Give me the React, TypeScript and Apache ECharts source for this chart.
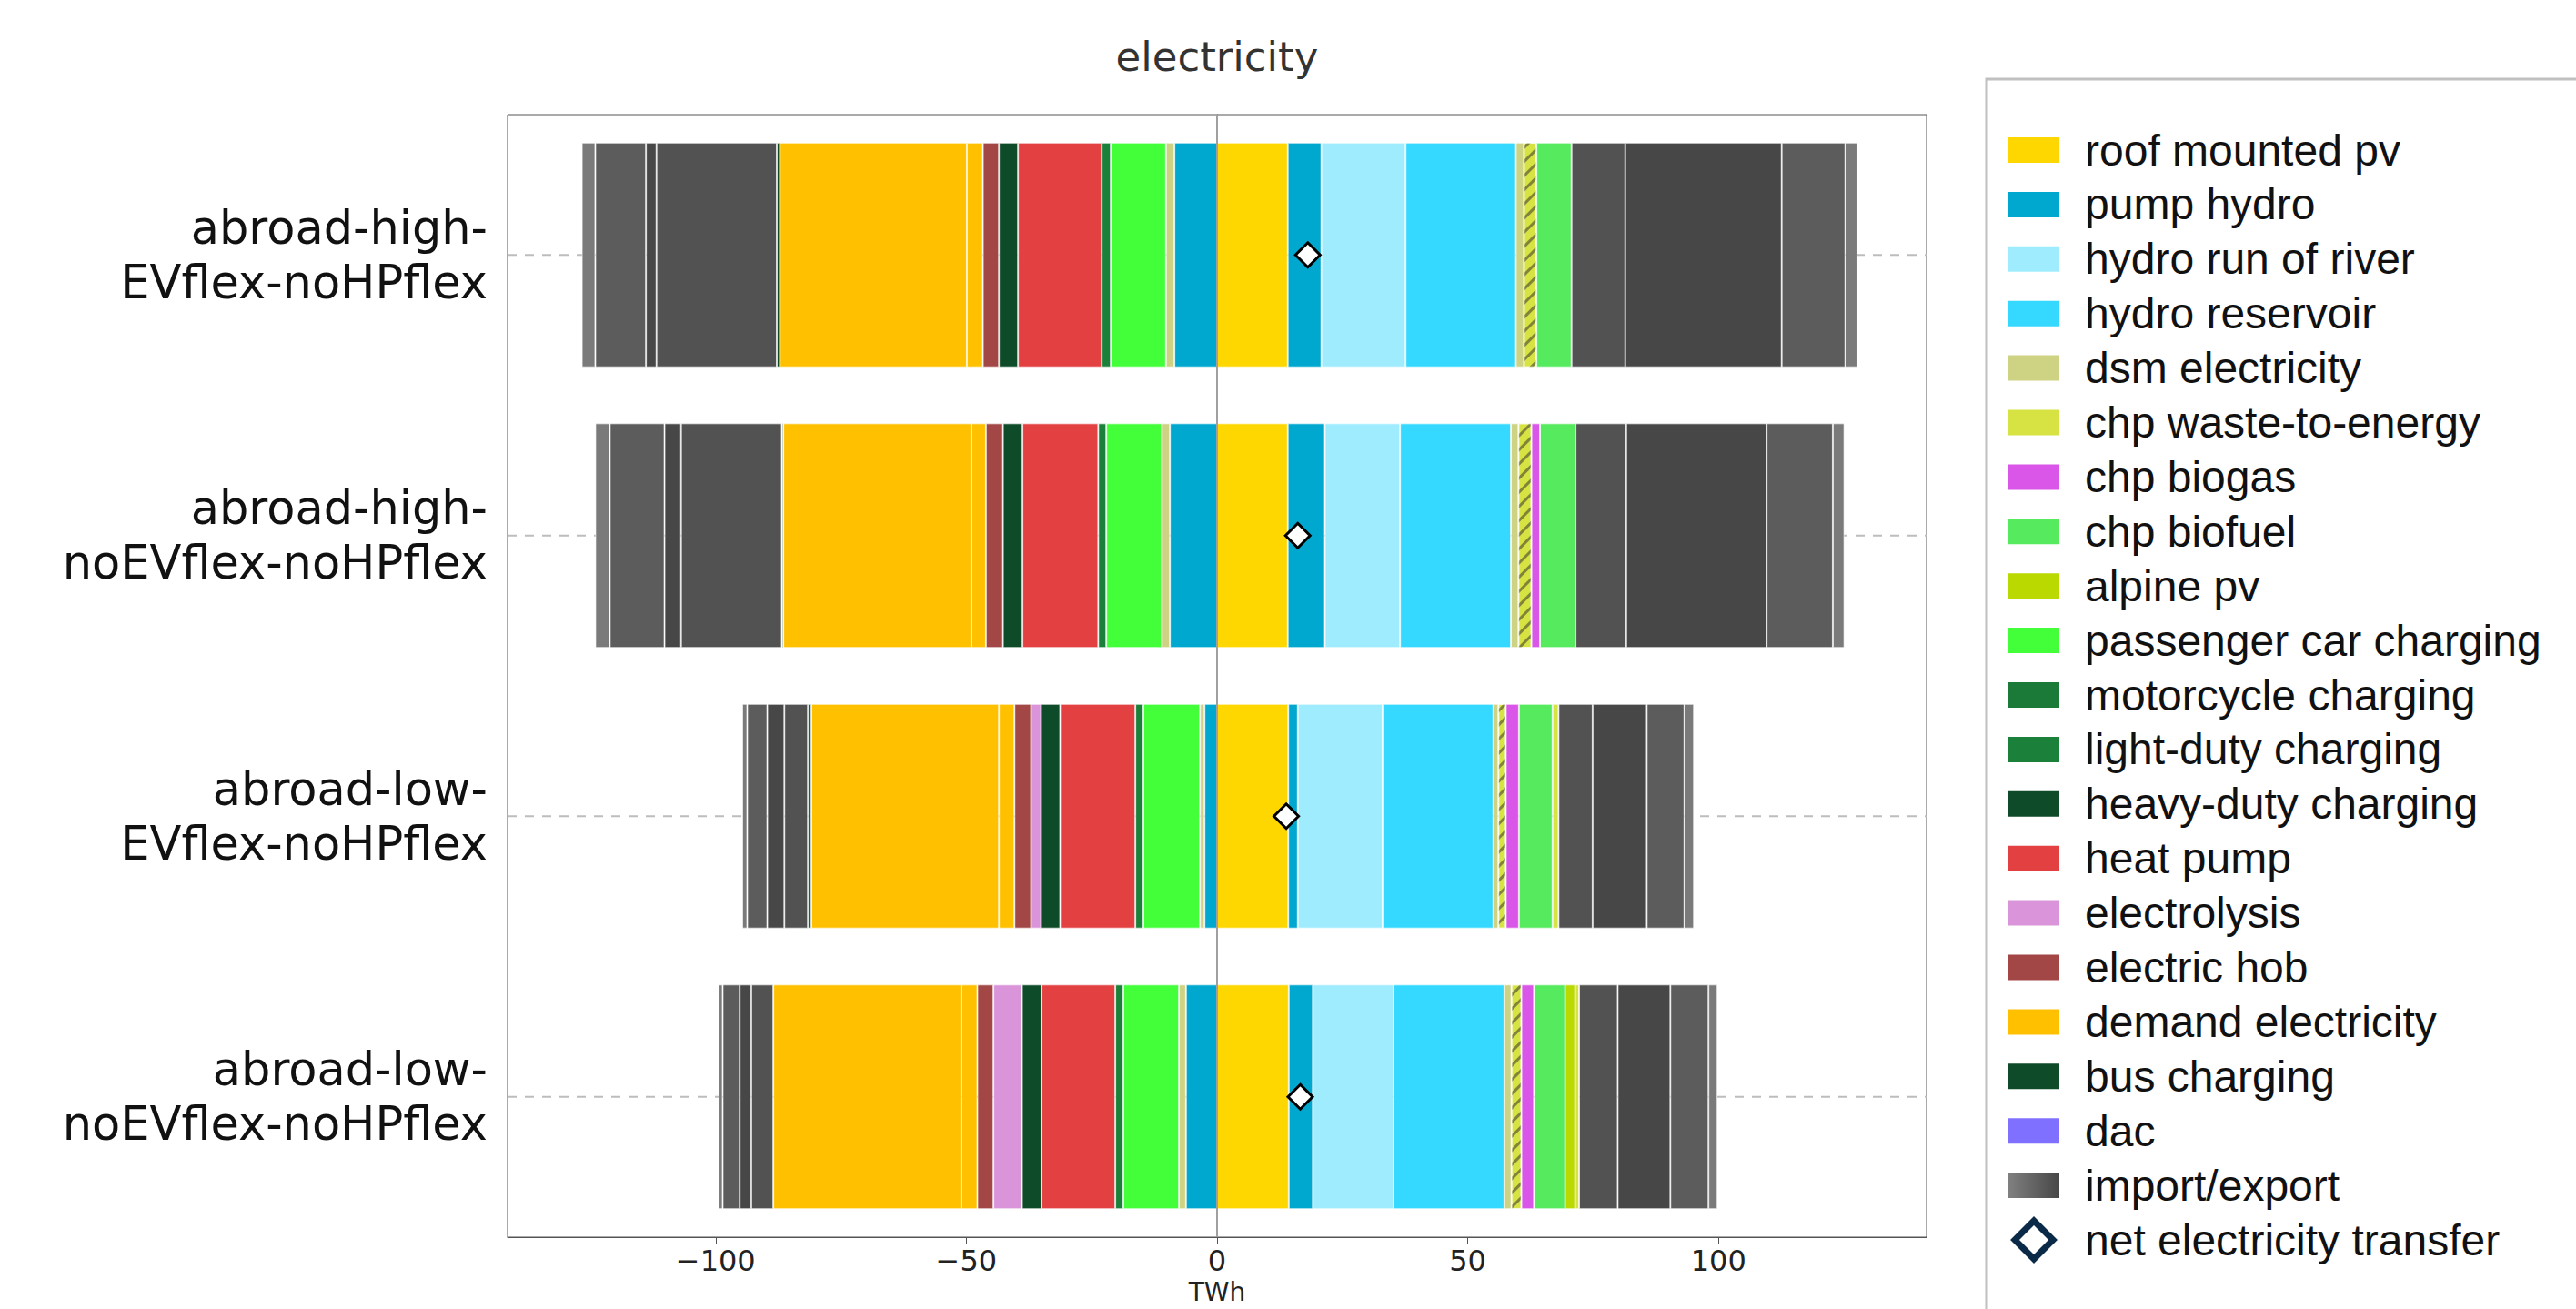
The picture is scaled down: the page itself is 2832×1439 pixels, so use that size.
import React, { useEffect, useRef } from 'react';
import * as echarts from 'echarts';

// ---------- data (TWh) ----------
const categories = [
  'abroad-high-EVflex-noHPflex',
  'abroad-high-noEVflex-noHPflex',
  'abroad-low-EVflex-noHPflex',
  'abroad-low-noEVflex-noHPflex',
];

const roofPv = [14.1, 14.1, 14.2, 14.3];
const pumpHydroGen = [6.7, 7.4, 1.9, 4.8];
const pumpHydroUse = [-8.5, -9.4, -2.5, -6.2];
const hydroRunOfRiver = [16.8, 15.0, 16.9, 16.1];
const hydroReservoir = [22.0, 22.1, 22.1, 22.1];
const dsmUp = [1.6, 1.5, 1.0, 1.4];
const dsmDown = [-1.7, -1.6, -0.9, -1.4];
const chpWasteHatched = [2.5, 2.6, 1.5, 2.0];
const chpBiogas = [0, 1.7, 2.6, 2.5];
const chpBiofuel = [7.0, 7.1, 6.7, 6.2];
const alpinePv = [0, 0, 0, 2.0];
const chpWastePlain = [0, 0, 1.2, 0.8];
const passengerCar = [-11.0, -11.1, -11.3, -11.1];
const motorcycle = [0, 0, 0, 0];
const lightDuty = [-1.8, -1.6, -1.6, -1.6];
const heatPump = [-16.7, -15.1, -15.0, -14.7];
const heavyDuty = [-3.8, -3.9, -3.8, -3.9];
const electrolysis = [0, 0, -2.0, -5.7];
const electricHob = [-3.2, -3.4, -3.3, -3.2];
const demandA = [-3.2, -2.9, -3.1, -3.2];
const demandB = [-37.3, -37.5, -37.4, -37.5];
const busCharging = [-0.6, -0.3, -0.7, 0];
const dac = [0, 0, 0, 0];
const import1 = [10.7, 10.1, 6.8, 7.7];
const import2 = [31.2, 28.0, 10.8, 10.5];
const import3 = [12.7, 13.2, 7.5, 7.6];
const import4 = [2.4, 2.3, 1.9, 1.8];
const export1 = [-24.0, -20.1, -4.7, -4.4];
const export2 = [-2.1, -3.3, -3.4, -2.3];
const export3 = [-10.1, -10.9, -4.0, -3.4];
const export4 = [-2.7, -2.9, -1.0, -0.8];
const netTransfer = [18.1, 16.1, 13.8, 16.6];

const xTicks = [-100, -50, 0, 50, 100];
const xMin = -141.5;
const xMax = 141.5;

const C = {
  roof: '#FFD700',
  pump: '#00A7CF',
  ror: '#A0ECFF',
  res: '#35D9FF',
  dsm: '#CED283',
  waste: '#D6E342',
  biogas: '#DA56E8',
  biofuel: '#56EA5E',
  alpine: '#BAD900',
  car: '#42FF3A',
  moto: '#1B7A38',
  light: '#1B8039',
  heavy: '#0E4B28',
  heat: '#E24041',
  elys: '#DA95DA',
  hob: '#A24646',
  demand: '#FFC000',
  bus: '#0E4B28',
  dac: '#8070FF',
  ie1: '#525252',
  ie2: '#474747',
  ie3: '#5C5C5C',
  ie4: '#7A7A7A',
};

const barDefs: { name: string; data: number[]; color: string; hatch?: boolean }[] = [
  { name: 'roof mounted pv', data: roofPv, color: C.roof },
  { name: 'pump hydro', data: pumpHydroGen, color: C.pump },
  { name: 'pump hydro', data: pumpHydroUse, color: C.pump },
  { name: 'hydro run of river', data: hydroRunOfRiver, color: C.ror },
  { name: 'hydro reservoir', data: hydroReservoir, color: C.res },
  { name: 'dsm electricity', data: dsmUp, color: C.dsm },
  { name: 'dsm electricity', data: dsmDown, color: C.dsm },
  { name: 'chp waste-to-energy', data: chpWasteHatched, color: C.waste, hatch: true },
  { name: 'chp biogas', data: chpBiogas, color: C.biogas },
  { name: 'chp biofuel', data: chpBiofuel, color: C.biofuel },
  { name: 'alpine pv', data: alpinePv, color: C.alpine },
  { name: 'chp waste-to-energy', data: chpWastePlain, color: C.waste },
  { name: 'passenger car charging', data: passengerCar, color: C.car },
  { name: 'motorcycle charging', data: motorcycle, color: C.moto },
  { name: 'light-duty charging', data: lightDuty, color: C.light },
  { name: 'heat pump', data: heatPump, color: C.heat },
  { name: 'heavy-duty charging', data: heavyDuty, color: C.heavy },
  { name: 'electrolysis', data: electrolysis, color: C.elys },
  { name: 'electric hob', data: electricHob, color: C.hob },
  { name: 'demand electricity', data: demandA, color: C.demand },
  { name: 'demand electricity', data: demandB, color: C.demand },
  { name: 'bus charging', data: busCharging, color: C.bus },
  { name: 'dac', data: dac, color: C.dac },
  { name: 'import/export', data: import1, color: C.ie1 },
  { name: 'import/export', data: import2, color: C.ie2 },
  { name: 'import/export', data: import3, color: C.ie3 },
  { name: 'import/export', data: import4, color: C.ie4 },
  { name: 'import/export', data: export1, color: C.ie1 },
  { name: 'import/export', data: export2, color: C.ie2 },
  { name: 'import/export', data: export3, color: C.ie3 },
  { name: 'import/export', data: export4, color: C.ie4 },
];

const legendNames = [
  'roof mounted pv', 'pump hydro', 'hydro run of river', 'hydro reservoir',
  'dsm electricity', 'chp waste-to-energy', 'chp biogas', 'chp biofuel',
  'alpine pv', 'passenger car charging', 'motorcycle charging',
  'light-duty charging', 'heavy-duty charging', 'heat pump', 'electrolysis',
  'electric hob', 'demand electricity', 'bus charging', 'dac', 'import/export',
  'net electricity transfer',
];
const legendColors = [
  C.roof, C.pump, C.ror, C.res, C.dsm, C.waste, C.biogas, C.biofuel, C.alpine,
  C.car, C.moto, C.light, C.heavy, C.heat, C.elys, C.hob, C.demand, C.bus, C.dac,
  'gradient', 'diamond',
];

const FONT = 'DejaVu Sans';
const LEGEND_FONT = 'Liberation Sans';

const hatchDecal = {
  symbol: 'rect',
  symbolSize: 1,
  dashArrayX: [1, 0],
  dashArrayY: [3, 8],
  rotation: -Math.PI / 4,
  color: 'rgba(100,100,50,0.75)',
};

export default function App() {
  const ref = useRef<HTMLDivElement>(null);

  useEffect(() => {
    document.body.style.margin = '0';
    if (!ref.current) return;
    const chart = echarts.init(ref.current, undefined, { renderer: 'svg' });

    const series: any[] = barDefs.map((d) => ({
      type: 'bar',
      name: d.name,
      stack: 'total',
      barWidth: '80%',
      data: d.data.map((v) => (v === 0 ? '-' : v)),
      itemStyle: {
        color: d.color,
        borderColor: 'rgba(255,255,255,0.6)',
        borderWidth: 1,
        decal: d.hatch ? hatchDecal : undefined,
      },
      z: 2,
      silent: true,
    }));

    categories.forEach((c) => {
      series.push({
        type: 'line',
        data: [[xMin, c], [xMax, c]],
        symbol: 'none',
        lineStyle: { color: '#BDBDBD', width: 2, type: [10, 9] },
        z: 1,
        silent: true,
      });
    });

    series.push({
      type: 'scatter',
      name: 'net electricity transfer',
      data: categories.map((c, i) => [netTransfer[i], c]),
      symbol: 'diamond',
      symbolSize: 27,
      itemStyle: { color: '#FFFFFF', borderColor: '#000000', borderWidth: 3, opacity: 1 },
      z: 10,
      silent: true,
      markLine: {
        silent: true,
        symbol: ['none', 'none'],
        label: { show: false },
        lineStyle: { color: '#A0A0A0', width: 2, type: 'solid' },
        data: [{ xAxis: 0 }],
      },
    });

    // legend drawn as graphic
    const legendEls: any[] = [
      {
        type: 'rect',
        shape: { x: 2184, y: 87, width: 900, height: 1500 },
        style: { fill: 'none', stroke: '#C0C0C0', lineWidth: 3 },
        silent: true,
      },
    ];
    legendNames.forEach((name, i) => {
      const cy = 165 + i * 59.9;
      const col = legendColors[i];
      if (col === 'diamond') {
        const cx = 2236;
        const h = 21;
        legendEls.push({
          type: 'polygon',
          shape: { points: [[cx, cy - h], [cx + h, cy], [cx, cy + h], [cx - h, cy]] },
          style: { fill: '#FFFFFF', stroke: '#0B2A48', lineWidth: 7 },
          silent: true,
        });
      } else {
        legendEls.push({
          type: 'rect',
          shape: { x: 2208, y: cy - 14, width: 56, height: 28 },
          style: {
            fill:
              col === 'gradient'
                ? new echarts.graphic.LinearGradient(0, 0, 1, 0, [
                    { offset: 0, color: '#808080' },
                    { offset: 1, color: '#474747' },
                  ])
                : col,
          },
          silent: true,
        });
      }
      legendEls.push({
        type: 'text',
        x: 2292,
        y: cy,
        style: {
          text: name,
          fontSize: 48,
          fontFamily: LEGEND_FONT,
          fill: '#111111',
          verticalAlign: 'middle',
          align: 'left',
        },
        silent: true,
      });
    });
    legendEls.push({
      type: 'text',
      x: 1338,
      y: 62,
      style: {
        text: 'electricity',
        fontSize: 45,
        fontFamily: FONT,
        fill: '#333333',
        align: 'center',
        verticalAlign: 'middle',
      },
      silent: true,
    });

    chart.setOption({
      animation: false,
      backgroundColor: '#FFFFFF',
      grid: {
        left: 558,
        right: 714,
        top: 126,
        bottom: 79,
        show: true,
        borderColor: '#555555',
        borderWidth: 1,
        backgroundColor: 'transparent',
        containLabel: false,
        outerBoundsMode: 'none',
      },
      xAxis: {
        type: 'value',
        min: xMin,
        max: xMax,
        name: 'TWh',
        nameLocation: 'middle',
        nameGap: 42,
        nameTextStyle: { fontSize: 28, lineHeight: 28, fontFamily: FONT, color: '#222' },
        axisLine: { show: true, onZero: false, lineStyle: { color: '#555555', width: 1 } },
        axisTick: { show: true, length: 8, customValues: xTicks, lineStyle: { color: '#555555' } },
        axisLabel: {
          customValues: xTicks,
          fontSize: 32,
          lineHeight: 32,
          fontFamily: FONT,
          color: '#222222',
          margin: 10,
          formatter: (v: number) => (v < 0 ? '\u2212' + Math.abs(v) : String(v)),
        },
        splitLine: { show: false },
      },
      yAxis: {
        type: 'category',
        data: categories,
        inverse: true,
        axisLine: { show: true, lineStyle: { color: '#555555', width: 1 } },
        axisTick: { show: true, alignWithLabel: true, length: 5, lineStyle: { color: '#BDBDBD', width: 2 } },
        axisLabel: {
          fontSize: 51,
          lineHeight: 60,
          fontFamily: FONT,
          color: '#111111',
          margin: 22,
          align: 'right',
          formatter: (name: string) => name.replace(/^([^-]+-[^-]+-)/, '$1\n'),
        },
        splitLine: { show: false },
      },
      graphic: legendEls,
      series,
    });

    return () => chart.dispose();
  }, []);

  return <div ref={ref} style={{ width: 2832, height: 1439 }} />;
}
